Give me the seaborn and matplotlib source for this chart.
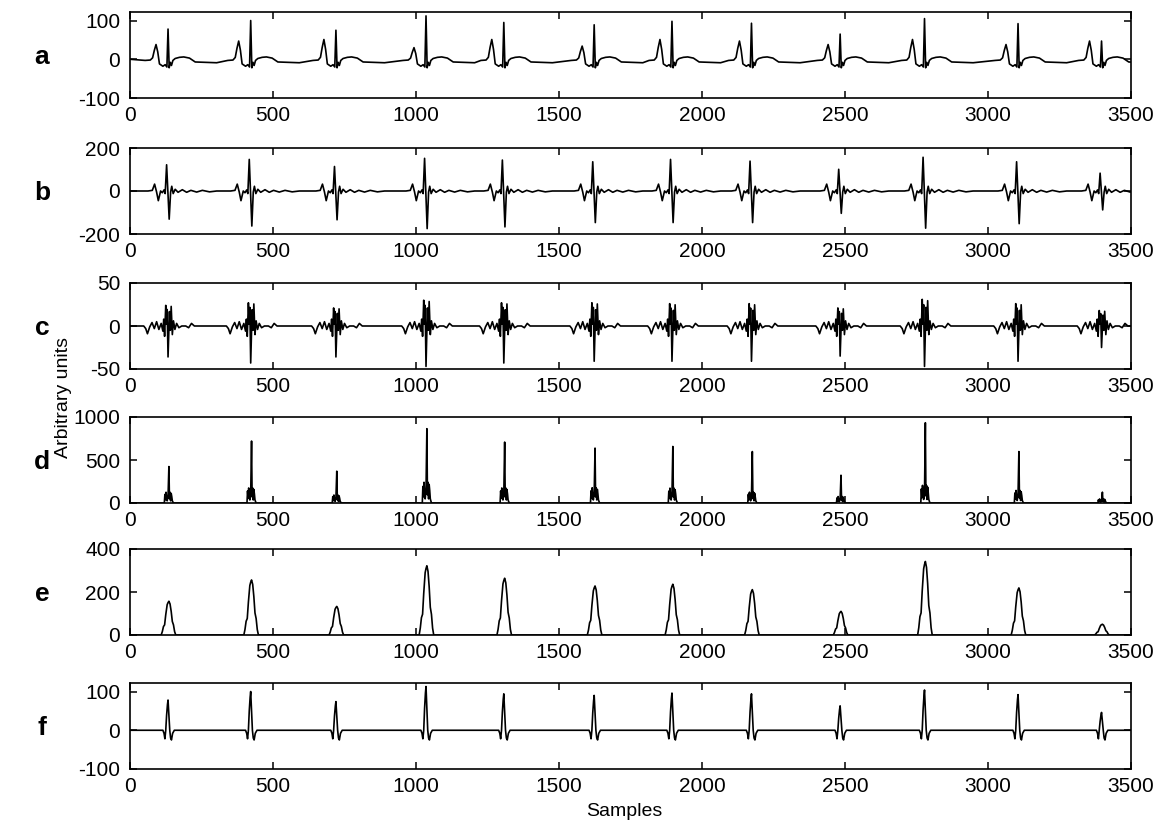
import numpy as np
import pandas as pd
import matplotlib
matplotlib.use("Agg")
import matplotlib.pyplot as plt
import seaborn as sns

# R-peak positions (samples)
beats = [133, 422, 720, 1035, 1307, 1623, 1895, 2173, 2483, 2778, 3105, 3397]

# per-beat amplitudes
a_p = [38, 47, 51, 30, 51, 34, 51, 47, 38, 51, 38, 47]
a_r = [78, 100, 75, 112, 95, 89, 98, 93, 65, 105, 92, 47]
b_up = [122, 147, 114, 152, 144, 136, 147, 139, 101, 157, 136, 83]
b_dn = [-131, -163, -134, -175, -167, -147, -147, -147, -104, -173, -152, -88]
c_pos = [24, 27, 21, 30, 27, 27, 26, 26, 21, 31, 26, 18]
c_neg = [-36, -43, -36, -47, -43, -41, -41, -41, -35, -47, -41, -25]
d_peak = [424, 720, 370, 864, 708, 638, 657, 598, 323, 933, 598, 126]
d_block = [125, 175, 93, 241, 175, 177, 173, 126, 75, 205, 146, 47]
e_peak = [157, 256, 133, 322, 264, 228, 236, 211, 110, 342, 219, 50]
f_r = [78, 100, 74, 113, 94, 90, 96, 94, 63, 104, 92, 46]

# beat shapes: offset from R, fixed value, and weights on the per-beat amplitudes
a_off = [-80, -62, -54, -48, -42, -36, -30, -18, -10, -4, 0, 4, 8, 12, 17, 25, 40, 55, 75, 95, 130, 170]
a_fix = [-3, -2, 0, 0, 0, 0, -12, -18, -14, -20, 0, -22, -8, -16, -3, 2, 5, 6, 3, -7, -8, -9]
a_wp = [0, 0, 0.1, 0.6, 1, 0.5] + [0] * 16
a_wr = [0] * 10 + [1] + [0] * 11

b_off = [-70, -55, -47, -40, -34, -26, -20, -14, -10, -5, 4, 9, 13, 18, 25, 35, 50, 65, 80, 100, 120, 145, 170]
b_fix = [0, 3, 32, -5, -45, 0, -8, 5, -12, 0, 0, -5, 22, -12, 8, -6, 6, -6, 3, -5, 3, -4, 0]
b_wu = [0] * 9 + [1] + [0] * 13
b_wd = [0] * 10 + [1] + [0] * 12

c_off = [-85, -78, -72, -64, -56, -48, -40, -32, -24, -18, -15, -12, -8, -5, -3, 0, 5, 8, 11, 15,
         19, 24, 30, 38, 48, 62, 72, 82, 92, 110]
c_fix = [0, -3, -9, -1, 4, -3, 5, -4, 3, -6, 8, -12, 0, 2, 0, 0, 0, -5, 0, -10,
         6, -4, 3, -2, 0, 0, -2, 3, 0, 0]
c_wp = [0] * 12 + [1, 0, 0.8, 0, 0.7, 0, 0.95] + [0] * 11
c_wn = [0] * 15 + [1] + [0] * 14

d_off = [-18, -13, -11, -9, -7, -5, -3, 0, 3, 5, 7, 9, 11, 13, 15, 19]
d_fix = [0] * 16
d_wb = [0, 0, 0.8, 0.3, 1, 0.5, 0.2, 0.6, 0, 0.4, 1, 0.2, 0.9, 0.6, 0.2, 0]
d_wq = [0] * 8 + [1] + [0] * 7

e_off = [-24, -20, -16, -12, -8, -3, 0, 3, 7, 11, 15, 19, 23, 27]
e_fix = [0] * 14
e_w = [0, 0.1, 0.25, 0.3, 0.6, 0.9, 0.96, 1.0, 0.92, 0.7, 0.4, 0.3, 0.1, 0]

f_off = [-18, -14, -11, -8, -5, -2, 0, 3, 6, 9, 12, 16, 22]
f_fix = [0, -8, -22, 0, 0, 0, 0, 0, 0, -20, -25, -8, 0]
f_wr = [0, 0, 0, 0, 0.5, 0.85, 1, 0.5, 0, 0, 0, 0, 0]

x_ticks = [0, 500, 1000, 1500, 2000, 2500, 3000, 3500]


def build(offsets, fixed, weights, amps):
    xs, ys = [0], [0]
    for i, r in enumerate(beats):
        for k, off in enumerate(offsets):
            v = fixed[k]
            for w, amp in zip(weights, amps):
                v += w[k] * amp[i]
            xs.append(r + off)
            ys.append(v)
    if xs[-1] < 3500:
        xs.append(3500)
        ys.append(0)
    return pd.DataFrame({"sample": xs, "value": ys})


panels = [
    ("a", build(a_off, a_fix, [a_wp, a_wr], [a_p, a_r]), (-100, 122), [-100, 0, 100], 12),
    ("b", build(b_off, b_fix, [b_wu, b_wd], [b_up, b_dn]), (-200, 200), [-200, 0, 200], 148),
    ("c", build(c_off, c_fix, [c_wp, c_wn], [c_pos, c_neg]), (-50, 50), [-50, 0, 50], 283),
    ("d", build(d_off, d_fix, [d_wb, d_wq], [d_block, d_peak]), (0, 1000), [0, 500, 1000], 417),
    ("e", build(e_off, e_fix, [e_w], [e_peak]), (0, 400), [0, 200, 400], 549),
    ("f", build(f_off, f_fix, [f_wr], [f_r]), (-100, 122), [-100, 0, 100], 683),
]

sns.set_style("ticks")
plt.rcParams["font.family"] = ["Liberation Sans", "DejaVu Sans"]
plt.rcParams["axes.unicode_minus"] = False
plt.rcParams["text.color"] = "black"

W, H = 1156, 823
fig = plt.figure(figsize=(W / 100, H / 100), dpi=100)

for letter, df, ylim, yticks, top in panels:
    ax = fig.add_axes([130 / W, 1 - (top + 86) / H, 1001 / W, 86 / H])
    sns.lineplot(data=df, x="sample", y="value", ax=ax, color="black",
                 linewidth=1.2, estimator=None, sort=False)
    ax.set_xlim(0, 3500)
    ax.set_ylim(*ylim)
    ax.set_xticks(x_ticks)
    ax.set_yticks(yticks)
    ax.set_xlabel("")
    ax.set_ylabel("")
    ax.tick_params(direction="in", top=True, right=True, length=5, width=1.1,
                   labelsize=15, colors="black")
    ax.tick_params(axis="x", pad=6)
    ax.tick_params(axis="y", pad=7)
    for s in ax.spines.values():
        s.set_color("black")
        s.set_linewidth(1.2)
    fig.text(42 / W, 1 - (top + 45) / H, letter, fontsize=19, fontweight="bold",
             ha="center", va="center", color="black")

fig.text(63 / W, 1 - 397 / H, "Arbitrary units", rotation=90, fontsize=14,
         ha="center", va="center", color="black")
fig.text(624 / W, 1 - 812 / H, "Samples", fontsize=14, ha="center", va="center",
         color="black")

fig.savefig("out.png", dpi=100)
